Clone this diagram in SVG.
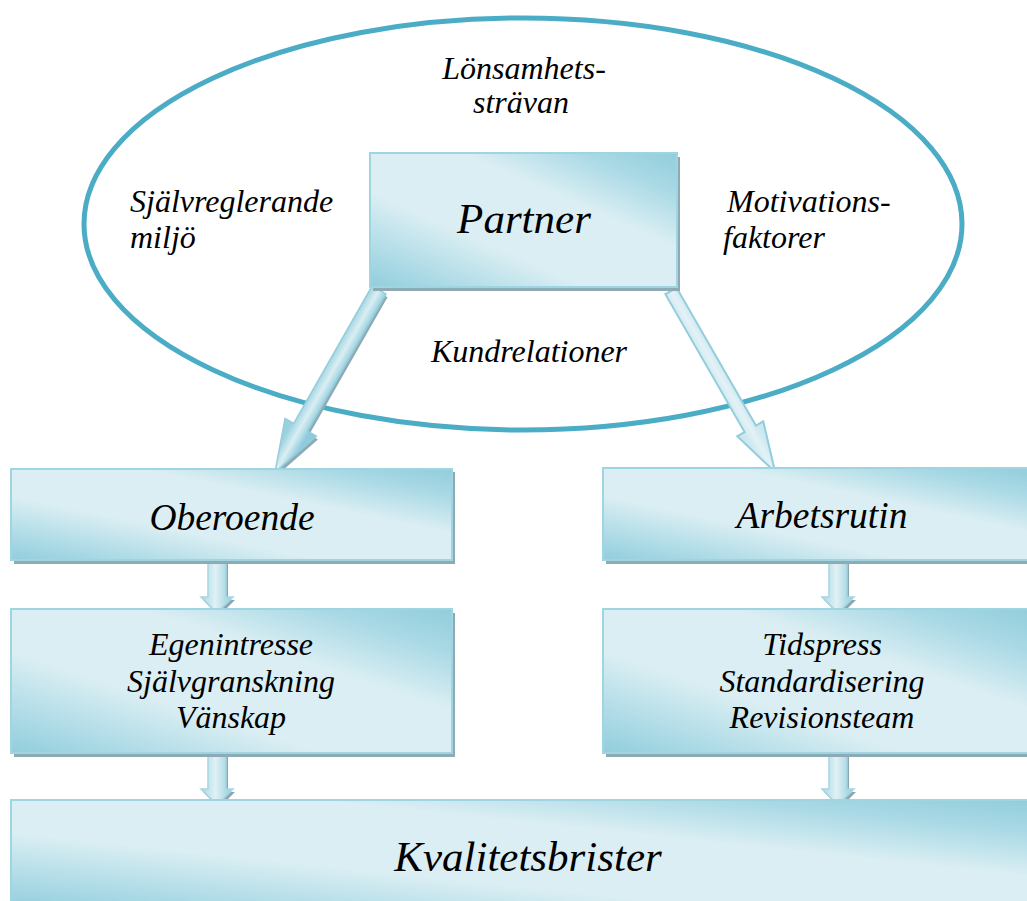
<svg xmlns="http://www.w3.org/2000/svg" width="1027" height="901" viewBox="0 0 1027 901">
<defs>
<linearGradient id="boxg" x1="0" y1="1" x2="1" y2="0">
<stop offset="0" stop-color="#92cddc"/>
<stop offset="0.12" stop-color="#a9d9e5"/>
<stop offset="0.35" stop-color="#daeef3"/>
<stop offset="0.65" stop-color="#daeef3"/>
<stop offset="0.85" stop-color="#a9d9e5"/>
<stop offset="1" stop-color="#92cddc"/>
</linearGradient>
<linearGradient id="arrL" gradientUnits="userSpaceOnUse" x1="-10" y1="0" x2="10" y2="0">
<stop offset="0" stop-color="#9ad1df"/>
<stop offset="0.5" stop-color="#daeef3"/>
<stop offset="1" stop-color="#8ecbdb"/>
</linearGradient>
<linearGradient id="arrR" gradientUnits="userSpaceOnUse" x1="-8" y1="0" x2="8" y2="0">
<stop offset="0" stop-color="#cde8ef"/>
<stop offset="0.5" stop-color="#e3f2f6"/>
<stop offset="1" stop-color="#cde8ef"/>
</linearGradient>
<linearGradient id="smallg" x1="0" y1="0" x2="1" y2="0">
<stop offset="0" stop-color="#a7d8e4"/>
<stop offset="0.45" stop-color="#e0f1f5"/>
<stop offset="1" stop-color="#8ecbdb"/>
</linearGradient>
<polygon id="sa" points="-9,0 9,0 9,37 16,37 0,53 -16,37 -9,37"/>
</defs>
<style>
.box{fill:url(#boxg);stroke:#9fd4e1;stroke-width:2}
.shadow{fill:#8eaab4}
.t{font-family:"Liberation Serif","Times New Roman",serif;font-style:italic;fill:#000}
.lbl{font-size:32px}
.mid{text-anchor:middle}
.sm{fill:url(#smallg);stroke:#a5d6e2;stroke-width:1.5}
.smsh{fill:#8aa7b1}
</style>

<g id="ellipse">
<ellipse cx="523" cy="224" rx="439" ry="206" fill="none" stroke="#4bacc6" stroke-width="5"/>
<text class="t lbl mid" x="524" y="79">Lönsamhets-</text>
<text class="t lbl mid" x="521" y="113">strävan</text>
<text class="t lbl" x="130" y="212">Självreglerande</text>
<text class="t lbl" x="130" y="248">miljö</text>
<text class="t lbl" x="727" y="212">Motivations-</text>
<text class="t lbl" x="723" y="248">faktorer</text>
<text class="t lbl mid" x="529" y="362">Kundrelationer</text>
</g>

<g id="connectors">
<g transform="translate(379,290) rotate(29.7)">
<polygon points="-8,0 8,0 8,158 18,158 0,210 -18,158 -8,158" fill="#8eaab4" transform="translate(3,2)"/>
<polygon points="-8,0 8,0 8,158 18,158 0,210 -18,158 -8,158" fill="url(#arrL)" stroke="#93cddd" stroke-width="1.5"/>
</g>
<g transform="translate(671,291) rotate(-29.9)">
<polygon points="-6.5,0 6.5,0 6.5,159 15,159 0,209 -15,159 -6.5,159" fill="url(#arrR)" stroke="#93cddd" stroke-width="2"/>
</g>
<g transform="translate(217,560)">
<use href="#sa" class="smsh" transform="translate(2,3)"/>
<use href="#sa" class="sm"/>
</g>
<g transform="translate(217,752)">
<use href="#sa" class="smsh" transform="translate(2,3)"/>
<use href="#sa" class="sm"/>
</g>
<g transform="translate(838,560)">
<use href="#sa" class="smsh" transform="translate(2,3)"/>
<use href="#sa" class="sm"/>
</g>
<g transform="translate(838,752)">
<use href="#sa" class="smsh" transform="translate(2,3)"/>
<use href="#sa" class="sm"/>
</g>
</g>

<g id="partner">
<rect class="shadow" x="373" y="157" width="307" height="134"/>
<rect class="box" x="370" y="153" width="307" height="134"/>
<text class="t mid" x="524" y="233" font-size="43">Partner</text>
</g>

<g id="oberoende">
<rect class="shadow" x="14" y="472" width="441" height="92"/>
<rect class="box" x="11" y="469" width="441" height="91"/>
<text class="t mid" x="232" y="530" font-size="37.5">Oberoende</text>
</g>

<g id="arbetsrutin">
<rect class="shadow" x="606" y="472" width="430" height="92"/>
<rect class="box" x="603" y="468" width="430" height="92"/>
<text class="t mid" x="822" y="528" font-size="37.5">Arbetsrutin</text>
</g>

<g id="hot-oberoende">
<rect class="shadow" x="14" y="613" width="441" height="144"/>
<rect class="box" x="11" y="609" width="441" height="144"/>
<text class="t lbl mid" x="231" y="655">Egenintresse</text>
<text class="t lbl mid" x="231" y="692">Självgranskning</text>
<text class="t lbl mid" x="231" y="728">Vänskap</text>
</g>

<g id="hot-arbetsrutin">
<rect class="shadow" x="606" y="613" width="430" height="144"/>
<rect class="box" x="603" y="609" width="430" height="144"/>
<text class="t lbl mid" x="822" y="655">Tidspress</text>
<text class="t lbl mid" x="822" y="692">Standardisering</text>
<text class="t lbl mid" x="822" y="728">Revisionsteam</text>
</g>

<g id="kvalitetsbrister">
<rect class="box" x="11" y="800" width="1030" height="110"/>
<text class="t mid" x="528" y="871" font-size="43">Kvalitetsbrister</text>
</g>
</svg>
